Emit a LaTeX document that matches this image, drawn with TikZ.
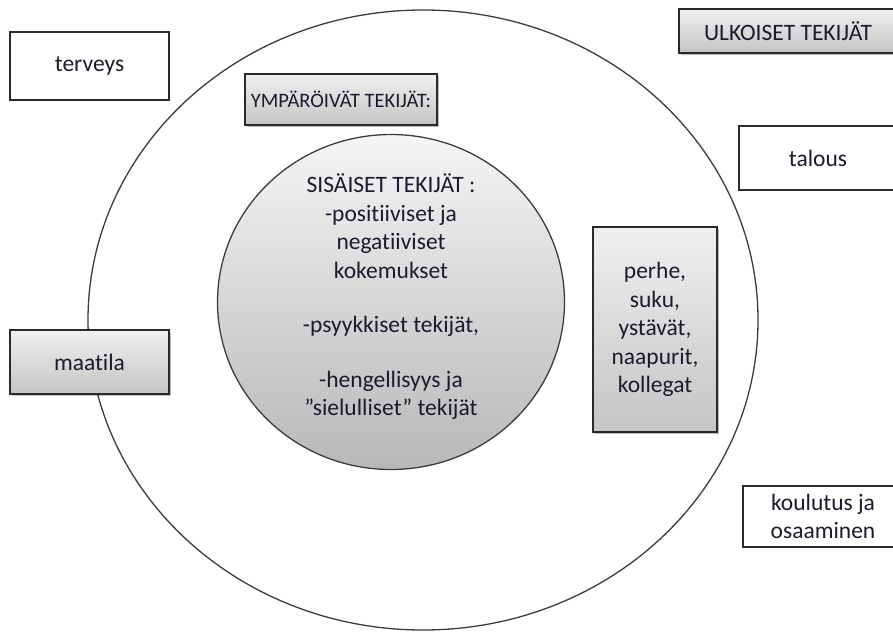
\documentclass[tikz,border=0pt]{standalone}
\usepackage{fontspec}
\setmainfont{Carlito}[Ligatures=NoCommon]
\usetikzlibrary{shapes.geometric,shadows}
\definecolor{txt}{HTML}{1E1A2E}
\definecolor{edge}{HTML}{2A2A2A}
\definecolor{ring}{HTML}{3C3C3C}
\tikzset{
  plainbox/.style={draw=edge, line width=1.6pt, fill=white, inner sep=0pt, text=txt, align=center},
  graybox/.style={draw=edge, line width=1.6pt, top color=white!94!black, bottom color=white!77!black,
    inner sep=0pt, text=txt, align=center,
    drop shadow={shadow xshift=2pt, shadow yshift=-2pt, opacity=0.25, fill=black}},
  ringshape/.style={draw=ring, line width=1.3pt, ellipse, inner sep=0pt},
  coreshape/.style={draw=ring, line width=1.3pt, ellipse, inner sep=0pt,
    top color=white!96!black, bottom color=white!72!black, text=txt, align=center},
}
\begin{document}
\begin{tikzpicture}[x=1pt,y=-1pt,font=\fontsize{23.5}{28.5}\selectfont]
\useasboundingbox (0,0) rectangle (893,632);
\clip (0,0) rectangle (893,632);
% outer ring
\node[ringshape, minimum width=670pt, minimum height=620pt] (ring) at (423,320) {};
% inner circle
\node[coreshape, minimum width=347pt, minimum height=335pt] (core) at (391,302) {};
\node[text=txt, align=center] (coretext) at (391,297)
  {SISÄISET TEKIJÄT :\\-positiiviset ja\\negatiiviset\\kokemukset\\[26pt]-psyykkiset tekijät,\\[26pt]-hengellisyys ja\\”sielulliset” tekijät};
% boxes
\node[plainbox, minimum width=159pt, minimum height=68pt] (terveys) at (89.5,66) {terveys};
\node[graybox, minimum width=192pt, minimum height=51pt, font=\fontsize{20.5}{24}\selectfont] (ymp) at (341,99.5) {YMPÄRÖIVÄT TEKIJÄT:};
\node[graybox, minimum width=218pt, minimum height=44pt] (ulk) at (788,31) {ULKOISET TEKIJÄT};
\node[plainbox, minimum width=158pt, minimum height=64pt] (talous) at (818,158) {talous};
\node[graybox, minimum width=124pt, minimum height=205pt] (perhe) at (655,329.5)
  {perhe,\\suku,\\ystävät,\\naapurit,\\kollegat};
\node[graybox, minimum width=159pt, minimum height=64pt] (maatila) at (89.5,362) {maatila};
\node[plainbox, minimum width=160pt, minimum height=61pt] (koulutus) at (823,516.5)
  {koulutus ja\\osaaminen};
\end{tikzpicture}
\end{document}
